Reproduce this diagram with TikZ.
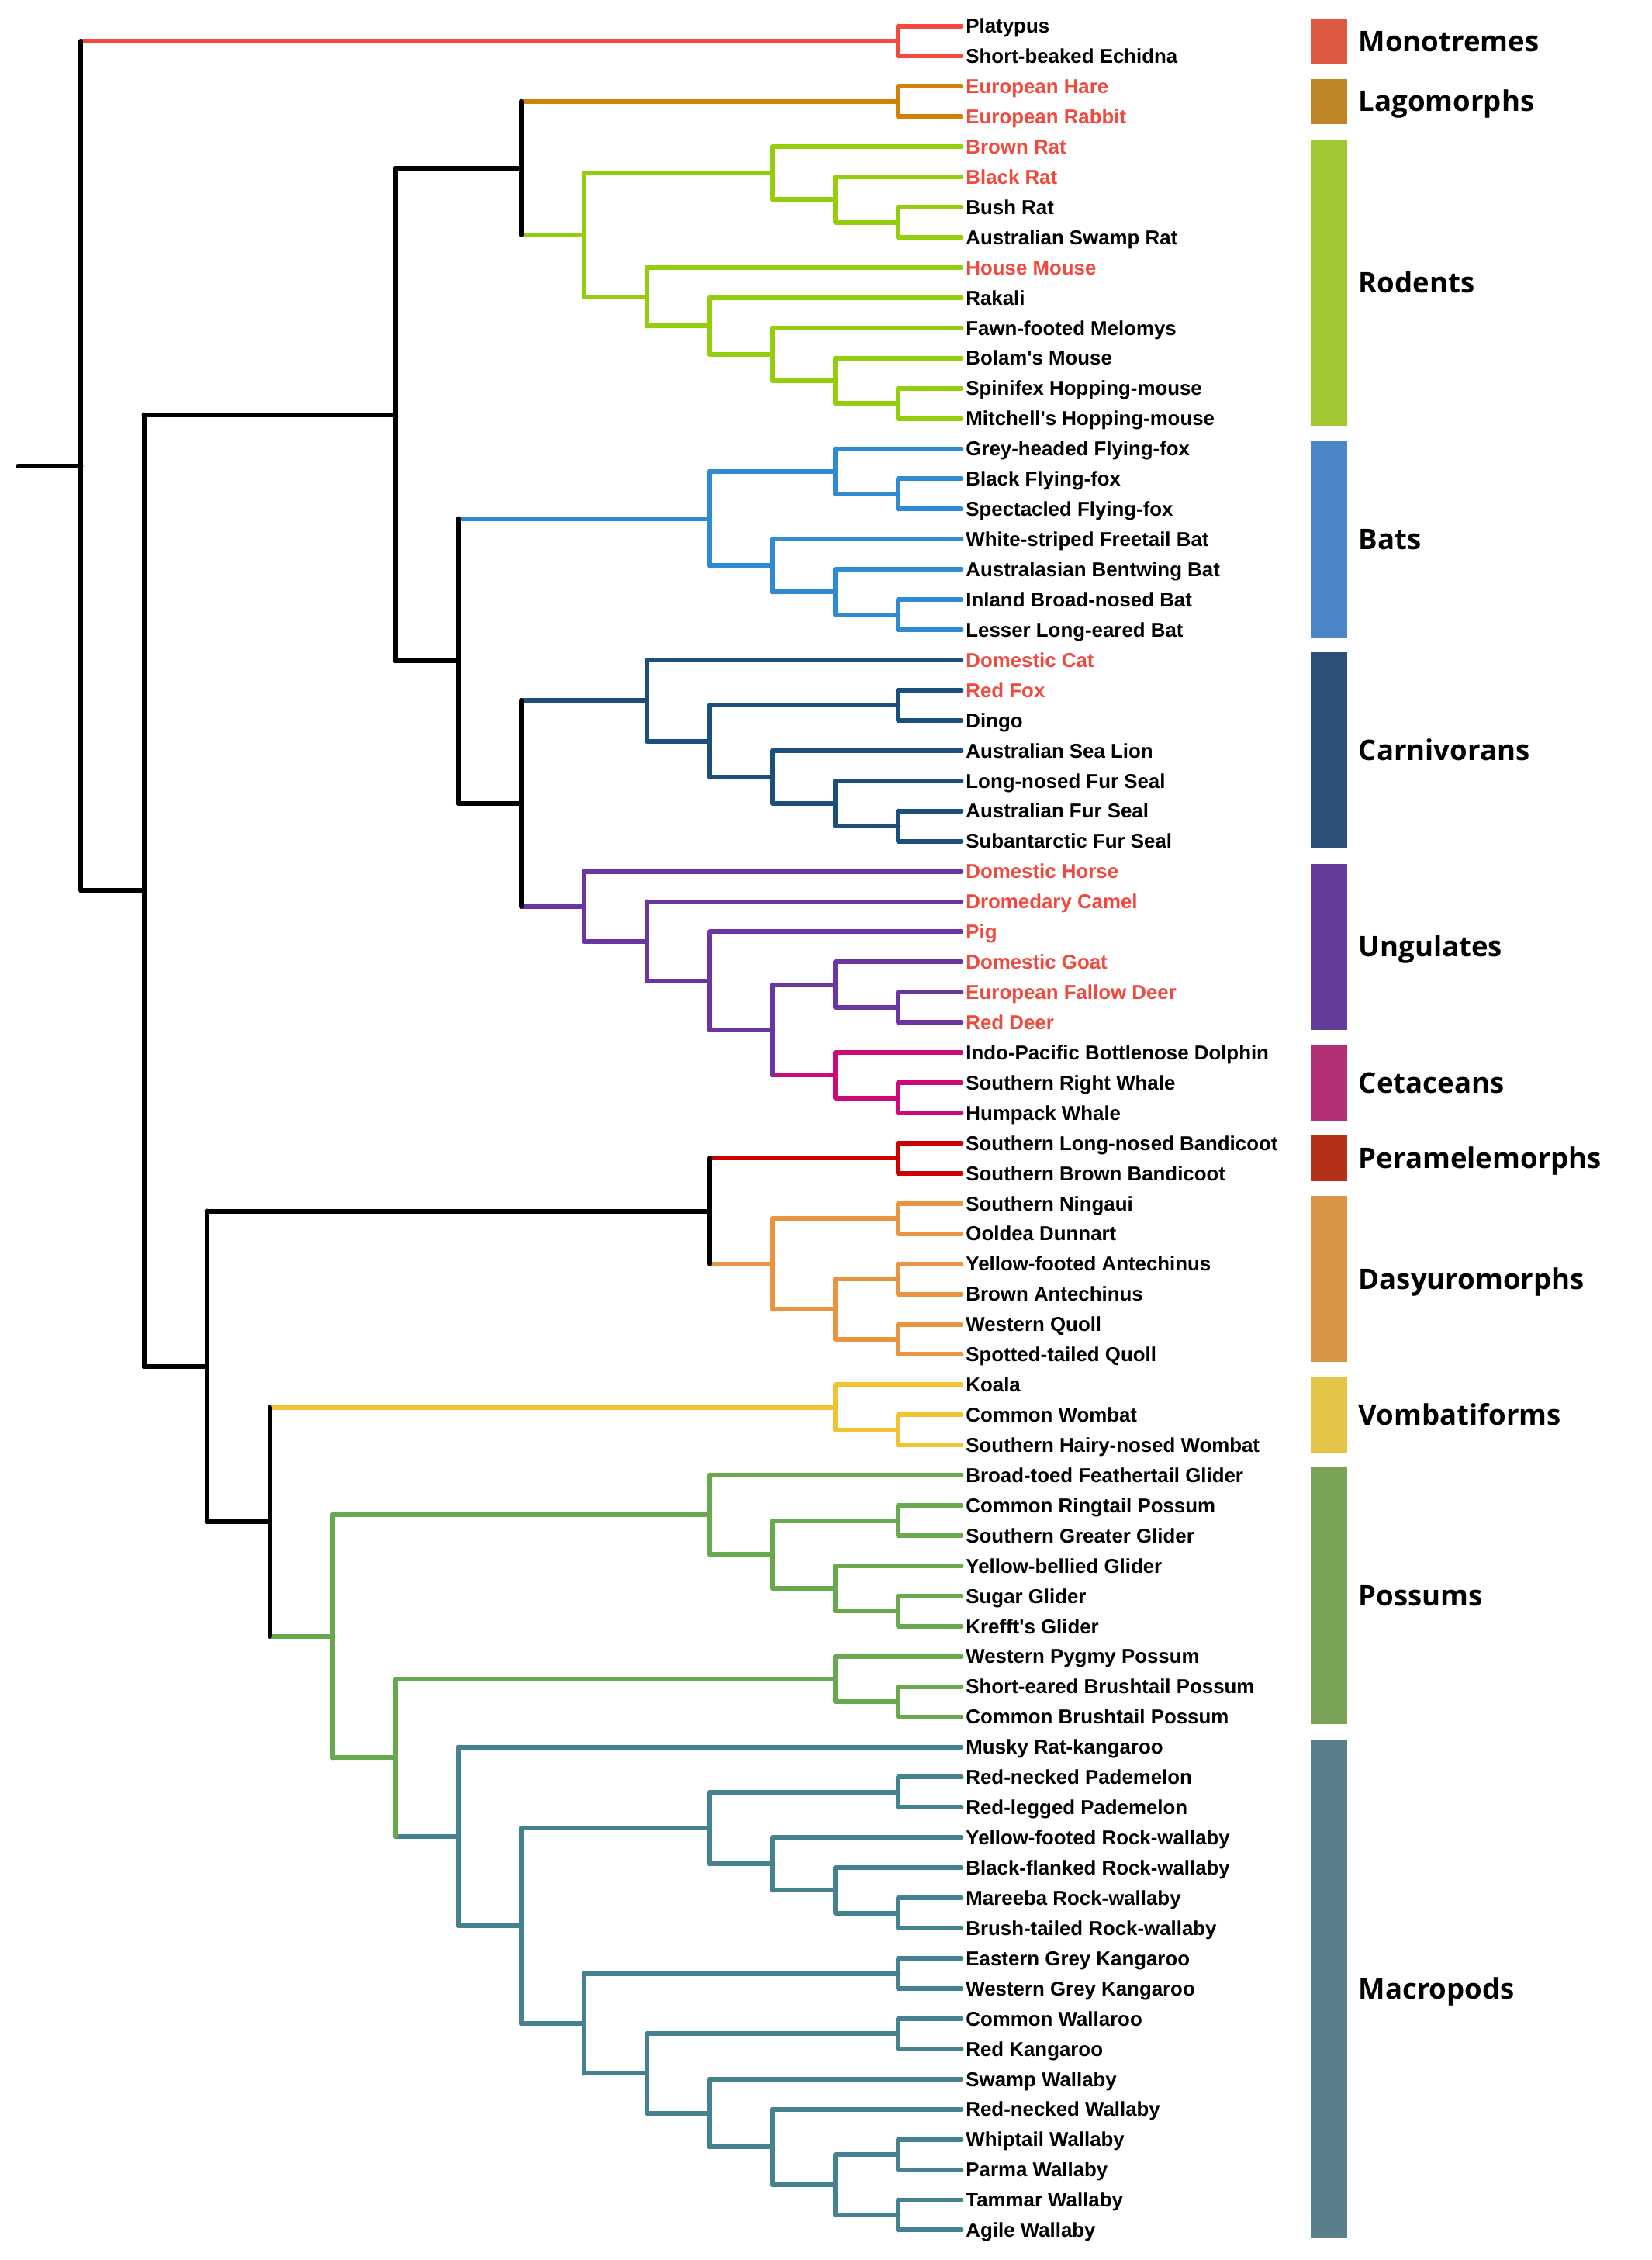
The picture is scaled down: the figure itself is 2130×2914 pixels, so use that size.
\documentclass[tikz,border=0pt]{standalone}
\usepackage{fontspec}
\setmainfont{Liberation Sans}[Ligatures=TeXOff]
\newfontfamily\cladefont{Open Sans}
\usetikzlibrary{calc}

% branch colours
\definecolor{Mono}{HTML}{F24A3F}
\definecolor{Lago}{HTML}{D08208}
\definecolor{Rod}{HTML}{93CD0C}
\definecolor{Bat}{HTML}{2F8AD2}
\definecolor{Carn}{HTML}{1D4F7C}
\definecolor{Ung}{HTML}{6B35A2}
\definecolor{Cet}{HTML}{CC0B78}
\definecolor{Pera}{HTML}{CC0000}
\definecolor{Dasy}{HTML}{E9953F}
\definecolor{Vomb}{HTML}{F1C232}
\definecolor{Poss}{HTML}{6AA84F}
\definecolor{Mac}{HTML}{45818E}
\definecolor{Intro}{HTML}{F04A3E}
% key colours
\definecolor{MonoBar}{HTML}{DD5942}
\definecolor{LagoBar}{HTML}{BE8526}
\definecolor{RodBar}{HTML}{A0C832}
\definecolor{BatBar}{HTML}{4A86C8}
\definecolor{CarnBar}{HTML}{2D5079}
\definecolor{UngBar}{HTML}{653B9C}
\definecolor{CetBar}{HTML}{B33076}
\definecolor{PeraBar}{HTML}{B43118}
\definecolor{DasyBar}{HTML}{D89645}
\definecolor{VombBar}{HTML}{E3C449}
\definecolor{PossBar}{HTML}{79A458}
\definecolor{MacBar}{HTML}{5A7F8C}

% name, level, child A, colour A, child B, colour B, colour of the bar
\newcommand{\clade}[7]{%
  \coordinate (#1m) at ($(#3)!.5!(#5)$);
  \coordinate (#1) at (lv#2 |- #1m);
  \draw[branch,#4] (#1 |- #3) -- (#3);
  \draw[branch,#6] (#1 |- #5) -- (#5);
  \draw[branch,#7] (#1 |- #3) -- (#1 |- #5);
}

\begin{document}
\begin{tikzpicture}[x=0.01cm, y=-0.01cm,
    branch/.style={line width=1.7pt, line cap=round},
    leaf/.style={anchor=base west, inner sep=0pt, xshift=1.5pt, yshift=-2.63pt,
        font=\bfseries\fontsize{7.35}{8}\selectfont},
    cladelab/.style={anchor=base west, inner sep=0pt, yshift=-3.72pt,
        font=\cladefont\bfseries\fontsize{10.4}{12}\selectfont}]
    \useasboundingbox (0,0) rectangle (2130,2914);
    \foreach \k in {0,...,15} {\coordinate (lv\k) at ({23.4+\k*81.07},0);}
    \foreach \sp/\tc [count=\i] in {Platypus/black, Short-beaked Echidna/black,
        European Hare/Intro, European Rabbit/Intro, Brown Rat/Intro, Black Rat/Intro,
        Bush Rat/black, Australian Swamp Rat/black, House Mouse/Intro, Rakali/black,
        Fawn-footed Melomys/black, Bolam's Mouse/black, Spinifex Hopping-mouse/black,
        Mitchell's Hopping-mouse/black, Grey-headed Flying-fox/black,
        Black Flying-fox/black, Spectacled Flying-fox/black,
        White-striped Freetail Bat/black, Australasian Bentwing Bat/black,
        Inland Broad-nosed Bat/black, Lesser Long-eared Bat/black,
        Domestic Cat/Intro, Red Fox/Intro, Dingo/black, Australian Sea Lion/black,
        Long-nosed Fur Seal/black, Australian Fur Seal/black,
        Subantarctic Fur Seal/black, Domestic Horse/Intro, Dromedary Camel/Intro,
        Pig/Intro, Domestic Goat/Intro, European Fallow Deer/Intro, Red Deer/Intro,
        Indo-Pacific Bottlenose Dolphin/black, Southern Right Whale/black,
        Humpack Whale/black, Southern Long-nosed Bandicoot/black,
        Southern Brown Bandicoot/black, Southern Ningaui/black, Ooldea Dunnart/black,
        Yellow-footed Antechinus/black, Brown Antechinus/black, Western Quoll/black,
        Spotted-tailed Quoll/black, Koala/black, Common Wombat/black,
        Southern Hairy-nosed Wombat/black, Broad-toed Feathertail Glider/black,
        Common Ringtail Possum/black, Southern Greater Glider/black,
        Yellow-bellied Glider/black, Sugar Glider/black, Krefft's Glider/black,
        Western Pygmy Possum/black, Short-eared Brushtail Possum/black,
        Common Brushtail Possum/black, Musky Rat-kangaroo/black,
        Red-necked Pademelon/black, Red-legged Pademelon/black,
        Yellow-footed Rock-wallaby/black, Black-flanked Rock-wallaby/black,
        Mareeba Rock-wallaby/black, Brush-tailed Rock-wallaby/black,
        Eastern Grey Kangaroo/black, Western Grey Kangaroo/black,
        Common Wallaroo/black, Red Kangaroo/black, Swamp Wallaby/black,
        Red-necked Wallaby/black, Whiptail Wallaby/black, Parma Wallaby/black,
        Tammar Wallaby/black, Agile Wallaby/black}
    {
        \coordinate (l\i) at ({23.4+15*81.07},{33.5+(\i-1)*38.93});
        \node[leaf, text=\tc] (sp\i) at (l\i) {\sp};
    }

    % placentals
    \clade{mono}{14}{l1}{Mono}{l2}{Mono}{Mono}
    \clade{lago}{14}{l3}{Lago}{l4}{Lago}{Lago}
    \clade{rodA3}{14}{l7}{Rod}{l8}{Rod}{Rod}
    \clade{rodA2}{13}{l6}{Rod}{rodA3}{Rod}{Rod}
    \clade{rodA}{12}{l5}{Rod}{rodA2}{Rod}{Rod}
    \clade{rodB5}{14}{l13}{Rod}{l14}{Rod}{Rod}
    \clade{rodB4}{13}{l12}{Rod}{rodB5}{Rod}{Rod}
    \clade{rodB3}{12}{l11}{Rod}{rodB4}{Rod}{Rod}
    \clade{rodB2}{11}{l10}{Rod}{rodB3}{Rod}{Rod}
    \clade{rodB}{10}{l9}{Rod}{rodB2}{Rod}{Rod}
    \clade{rod}{9}{rodA}{Rod}{rodB}{Rod}{Rod}
    \clade{glires}{8}{lago}{Lago}{rod}{Rod}{black}
    \clade{batA2}{14}{l16}{Bat}{l17}{Bat}{Bat}
    \clade{batA}{13}{l15}{Bat}{batA2}{Bat}{Bat}
    \clade{batB3}{14}{l20}{Bat}{l21}{Bat}{Bat}
    \clade{batB2}{13}{l19}{Bat}{batB3}{Bat}{Bat}
    \clade{batB}{12}{l18}{Bat}{batB2}{Bat}{Bat}
    \clade{bats}{11}{batA}{Bat}{batB}{Bat}{Bat}
    \clade{carnA}{14}{l23}{Carn}{l24}{Carn}{Carn}
    \clade{carnB3}{14}{l27}{Carn}{l28}{Carn}{Carn}
    \clade{carnB2}{13}{l26}{Carn}{carnB3}{Carn}{Carn}
    \clade{carnB}{12}{l25}{Carn}{carnB2}{Carn}{Carn}
    \clade{carn2}{11}{carnA}{Carn}{carnB}{Carn}{Carn}
    \clade{carn}{10}{l22}{Carn}{carn2}{Carn}{Carn}
    \clade{deer}{14}{l33}{Ung}{l34}{Ung}{Ung}
    \clade{bovid}{13}{l32}{Ung}{deer}{Ung}{Ung}
    \clade{whale}{14}{l36}{Cet}{l37}{Cet}{Cet}
    \clade{cet}{13}{l35}{Cet}{whale}{Cet}{Cet}
    \clade{cetart}{12}{bovid}{Ung}{cet}{Cet}{Ung}
    \clade{artio}{11}{l31}{Ung}{cetart}{Ung}{Ung}
    \clade{ung2}{10}{l30}{Ung}{artio}{Ung}{Ung}
    \clade{ung}{9}{l29}{Ung}{ung2}{Ung}{Ung}
    \clade{laur2}{8}{carn}{Carn}{ung}{Ung}{black}
    \clade{laur}{7}{bats}{Bat}{laur2}{black}{black}
    \clade{plac}{6}{glires}{black}{laur}{black}{black}

    % marsupials
    \clade{pera}{14}{l38}{Pera}{l39}{Pera}{Pera}
    \clade{dasyA}{14}{l40}{Dasy}{l41}{Dasy}{Dasy}
    \clade{dasyB1}{14}{l42}{Dasy}{l43}{Dasy}{Dasy}
    \clade{dasyB2}{14}{l44}{Dasy}{l45}{Dasy}{Dasy}
    \clade{dasyB}{13}{dasyB1}{Dasy}{dasyB2}{Dasy}{Dasy}
    \clade{dasy}{12}{dasyA}{Dasy}{dasyB}{Dasy}{Dasy}
    \clade{perdas}{11}{pera}{Pera}{dasy}{Dasy}{black}
    \clade{wombat}{14}{l47}{Vomb}{l48}{Vomb}{Vomb}
    \clade{vomb}{13}{l46}{Vomb}{wombat}{Vomb}{Vomb}
    \clade{possA3}{14}{l53}{Poss}{l54}{Poss}{Poss}
    \clade{possA2}{13}{l52}{Poss}{possA3}{Poss}{Poss}
    \clade{possA1}{14}{l50}{Poss}{l51}{Poss}{Poss}
    \clade{possAb}{12}{possA1}{Poss}{possA2}{Poss}{Poss}
    \clade{possA}{11}{l49}{Poss}{possAb}{Poss}{Poss}
    \clade{possB1}{14}{l56}{Poss}{l57}{Poss}{Poss}
    \clade{possB}{13}{l55}{Poss}{possB1}{Poss}{Poss}
    \clade{pade}{14}{l59}{Mac}{l60}{Mac}{Mac}
    \clade{rockC}{14}{l63}{Mac}{l64}{Mac}{Mac}
    \clade{rockB}{13}{l62}{Mac}{rockC}{Mac}{Mac}
    \clade{rock}{12}{l61}{Mac}{rockB}{Mac}{Mac}
    \clade{macA}{11}{pade}{Mac}{rock}{Mac}{Mac}
    \clade{grey}{14}{l65}{Mac}{l66}{Mac}{Mac}
    \clade{roo}{14}{l67}{Mac}{l68}{Mac}{Mac}
    \clade{walC}{14}{l71}{Mac}{l72}{Mac}{Mac}
    \clade{walD}{14}{l73}{Mac}{l74}{Mac}{Mac}
    \clade{wal3}{13}{walC}{Mac}{walD}{Mac}{Mac}
    \clade{wal2}{12}{l70}{Mac}{wal3}{Mac}{Mac}
    \clade{wal1}{11}{l69}{Mac}{wal2}{Mac}{Mac}
    \clade{macB2}{10}{roo}{Mac}{wal1}{Mac}{Mac}
    \clade{macB}{9}{grey}{Mac}{macB2}{Mac}{Mac}
    \clade{mac2}{8}{macA}{Mac}{macB}{Mac}{Mac}
    \clade{mac}{7}{l58}{Mac}{mac2}{Mac}{Mac}
    \clade{dipB}{6}{possB}{Poss}{mac}{Mac}{Poss}
    \clade{dipA}{5}{possA}{Poss}{dipB}{Poss}{Poss}
    \clade{dipr}{4}{vomb}{Vomb}{dipA}{Poss}{black}
    \clade{mars}{3}{perdas}{black}{dipr}{black}{black}

    % base of the tree
    \clade{ther}{2}{plac}{black}{mars}{black}{black}
    \clade{root}{1}{mono}{Mono}{ther}{black}{black}
    \coordinate (stub) at (lv0 |- root);
    \draw[branch] (stub) -- (root);

    % key
    \foreach \grp/\a/\b/\col in {Monotremes/1/2/MonoBar, Lagomorphs/3/4/LagoBar,
        Rodents/5/14/RodBar, Bats/15/21/BatBar, Carnivorans/22/28/CarnBar,
        Ungulates/29/34/UngBar, Cetaceans/35/37/CetBar, Peramelemorphs/38/39/PeraBar,
        Dasyuromorphs/40/45/DasyBar, Vombatiforms/46/48/VombBar,
        Possums/49/57/PossBar, Macropods/58/74/MacBar}
    {
        \fill[\col] (1690,{33.5+(\a-1)*38.93-9.7}) rectangle (1737,{33.5+(\b-1)*38.93+9.7});
        \node[cladelab] (key-\grp) at (1751,{33.5+(\a+\b-2)*38.93/2}) {\grp};
    }
\end{tikzpicture}
\end{document}
